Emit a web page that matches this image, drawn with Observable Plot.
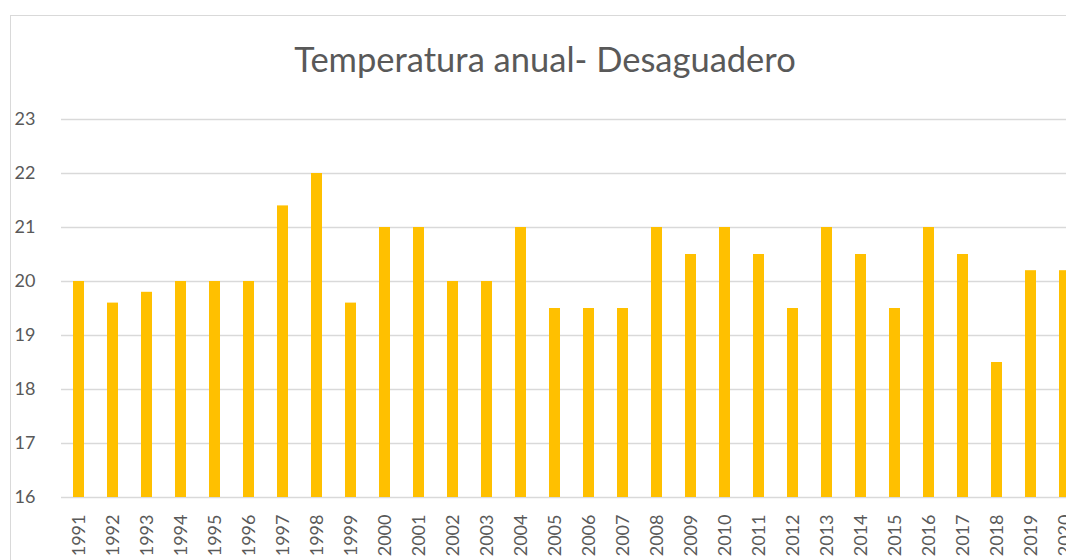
<!DOCTYPE html>
<html>
<head>
<meta charset="utf-8">
<script src="https://cdn.jsdelivr.net/npm/d3@7"></script>
<script src="https://cdn.jsdelivr.net/npm/@observablehq/plot@0.6"></script>
<style>
  html, body { margin: 0; padding: 0; background: #fff; overflow: hidden; width: 1066px; height: 560px; }
  #frame { position: absolute; left: 10px; top: 15px; width: 1200px; height: 700px; border: 1.5px solid #d9d9d9; box-sizing: border-box; pointer-events: none; }
  #title { position: absolute; left: 0; top: 0; width: 1090px; height: 100px; text-align: center; font-family: Lato, "Open Sans", sans-serif; font-size: 34.5px; color: #595959; line-height: 34px; padding-top: 42px; box-sizing: border-box; }
  #chart { position: absolute; left: 0; top: 100px; width: 1085px; }
  #chart svg { max-width: none !important; }
</style>
</head>
<body>
<div id="frame"></div>
<div id="title">Temperatura anual- Desaguadero</div>
<div id="chart"></div>
<script>
const years = [1991,1992,1993,1994,1995,1996,1997,1998,1999,2000,2001,2002,2003,2004,2005,2006,2007,2008,2009,2010,2011,2012,2013,2014,2015,2016,2017,2018,2019,2020];
const temps = [20,19.6,19.8,20,20,20,21.4,22,19.6,21,21,20,20,21,19.5,19.5,19.5,21,20.5,21,20.5,19.5,21,20.5,19.5,21,20.5,18.5,20.2,20.2];
const yTicks = [16,17,18,19,20,21,22,23];

const data = years.map((y, i) => ({year: String(y), t: temps[i]}));

const chart = Plot.plot({
  width: 1085,
  height: 460,
  marginLeft: 61,
  marginRight: 4,
  marginTop: 19,
  marginBottom: 63,
  style: {fontFamily: "Lato, 'Open Sans', sans-serif", fontSize: "18px", color: "#595959", background: "transparent", maxWidth: "none"},
  x: {type: "band", domain: years.map(String), paddingInner: 0.68, paddingOuter: 0.34},
  y: {domain: [16, 23]},
  marks: [
    Plot.ruleY(yTicks, {stroke: "#d9d9d9", strokeWidth: 1.5}),
    Plot.barY(data, {x: "year", y1: 16, y2: "t", fill: "#FFC000"}),
    Plot.axisY(yTicks, {tickSize: 0, tickPadding: 26, tickFormat: d => String(d), label: null, fill: "#595959", fontSize: 18}),
    Plot.axisX({tickSize: 0, tickPadding: 17, tickRotate: -90, label: null, fill: "#595959", fontSize: 18})
  ]
});
document.getElementById("chart").appendChild(chart);
</script>
</body>
</html>
